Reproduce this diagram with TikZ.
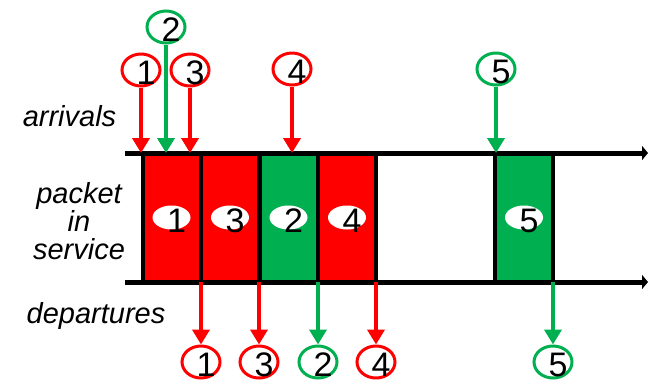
\documentclass[tikz,border=0pt]{standalone}
\usepackage{fontspec}
\setmainfont{Liberation Sans}
\usepackage{tikz}
\usetikzlibrary{shapes,arrows.meta,positioning,calc}
\usepackage{xcolor}
\definecolor{pktred}{RGB}{255,0,0}
\definecolor{pktgreen}{RGB}{0,176,80}

\begin{document}
\begin{tikzpicture}[x=1pt,y=-1pt,
        lbl/.style={font=\fontsize{29}{29}\selectfont\itshape,anchor=base},
        num/.style={ellipse,line width=3pt,minimum width=38pt,minimum height=32pt,inner sep=0pt},
        digit/.style={font=\fontsize{34}{34}\selectfont,inner sep=0pt,xshift=5pt,yshift=-3pt},
        pkt/.style={draw=black,line width=4pt,minimum width=58pt,minimum height=129pt,inner sep=0pt},
        tag/.style={ellipse,fill=white,minimum width=38pt,minimum height=24pt,inner sep=0pt},
        arr/.style={line width=4pt,-{Triangle[length=15pt,width=17pt]}},
        axis/.style={line width=5pt,-{Triangle[length=6pt,width=14pt]}}]
        \useasboundingbox (0,0) rectangle (648,384);

        % Labels
        \node[lbl] (arrlbl) at (69.5,126) {arrivals};
        \node[lbl] (pktlbl) at (79,203) {packet};
        \node[lbl] (inlbl) at (79,231) {in};
        \node[lbl] (svclbl) at (79,259) {service};
        \node[lbl] (deplbl) at (96,323) {departures};

        % Packets in service
        \node[pkt,fill=pktred] (s1) at (171.5,217.5) {};
        \node[pkt,fill=pktred] (s3) at (230,217.5) {};
        \node[pkt,fill=pktgreen] (s2) at (288.5,217.5) {};
        \node[pkt,fill=pktred] (s4) at (347,217.5) {};
        \node[pkt,fill=pktgreen] (s5) at (524,217.5) {};
        \node[tag,label={[digit]center:1}] (t1) at (s1) {};
        \node[tag,label={[digit]center:3}] (t3) at (s3) {};
        \node[tag,label={[digit]center:2}] (t2) at (s2) {};
        \node[tag,label={[digit]center:4}] (t4) at (s4) {};
        \node[tag,label={[digit]center:5}] (t5) at (s5) {};

        % Time lines
        \coordinate (tl) at (125,153);
        \coordinate (tr) at (648,153);
        \coordinate (bl) at (125,282);
        \coordinate (br) at (648,282);
        \draw[axis] (tl) -- (tr);
        \draw[axis] (bl) -- (br);

        % Arrivals
        \node[num,draw=pktred,label={[digit]center:1}] (a1) at (141,70) {};
        \node[num,draw=pktgreen,label={[digit]center:2}] (a2) at (166,27) {};
        \node[num,draw=pktred,label={[digit]center:3}] (a3) at (190,70) {};
        \node[num,draw=pktred,label={[digit]center:4}] (a4) at (292,69) {};
        \node[num,draw=pktgreen,label={[digit]center:5}] (a5) at (496,69) {};
        \draw[arr,pktred] (a1) -- (a1 |- tl);
        \draw[arr,pktgreen] (a2) -- (a2 |- tl);
        \draw[arr,pktred] (a3) -- (a3 |- tl);
        \draw[arr,pktred] (a4) -- (a4 |- tl);
        \draw[arr,pktgreen] (a5) -- (a5 |- tl);

        % Departures
        \node[num,draw=pktred,label={[digit]center:1}] (d1) at (201,362) {};
        \node[num,draw=pktred,label={[digit]center:3}] (d3) at (259,362) {};
        \node[num,draw=pktgreen,label={[digit]center:2}] (d2) at (318,362) {};
        \node[num,draw=pktred,label={[digit]center:4}] (d4) at (376,362) {};
        \node[num,draw=pktgreen,label={[digit]center:5}] (d5) at (553,362) {};
        \draw[arr,pktred] (d1 |- bl) -- (d1);
        \draw[arr,pktred] (d3 |- bl) -- (d3);
        \draw[arr,pktgreen] (d2 |- bl) -- (d2);
        \draw[arr,pktred] (d4 |- bl) -- (d4);
        \draw[arr,pktgreen] (d5 |- bl) -- (d5);
    \end{tikzpicture}
\end{document}
